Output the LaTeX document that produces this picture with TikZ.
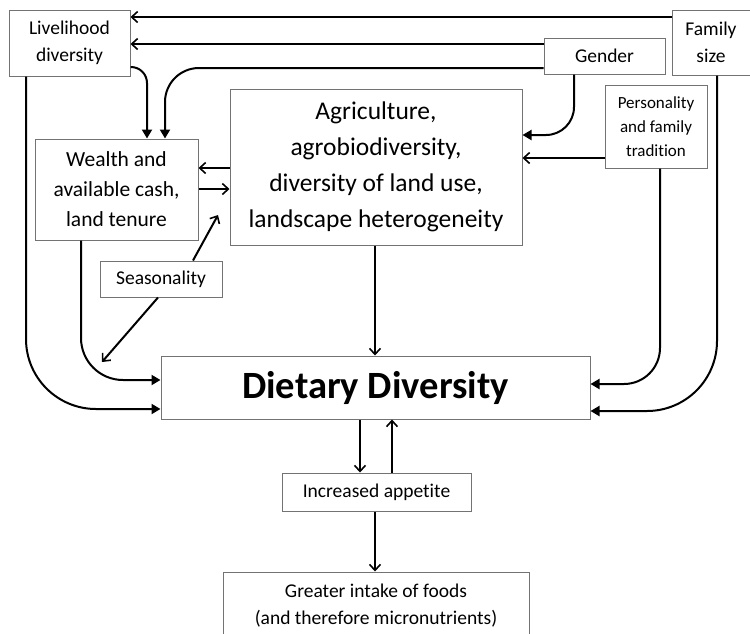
\documentclass[tikz,border=0pt]{standalone}
\usepackage{fontspec}
\setmainfont{Carlito}[Ligatures={NoCommon}]
\usetikzlibrary{arrows.meta}
\begin{document}
\begin{tikzpicture}[x=1pt,y=-1pt,
  box/.style={draw=black!55, line width=1pt, fill=white, align=center, inner sep=0pt, text=black},
  fs/.style={font=\fontsize{19.5}{27}\selectfont},
  fpers/.style={font=\fontsize{17}{24}\selectfont},
  fwealth/.style={font=\fontsize{21.5}{30}\selectfont},
  fagri/.style={font=\fontsize{25.5}{36}\selectfont},
  fdiet/.style={font=\fontsize{38.6}{46}\selectfont\bfseries},
  conn/.style={line width=2pt, black},
  fa/.style={conn, -{Triangle[length=9pt,width=10pt]}},
  oa/.style={conn, -{Straight Barb[length=6pt,width=11pt,line width=1.6pt]}}]
\useasboundingbox (0,0) rectangle (750,633);
\clip (0,0) rectangle (750,633);
\fill[white] (0,0) rectangle (750,633);

\node[box, fs, minimum width=121pt, minimum height=66pt] (liv) at (69.5,43) {Livelihood\\diversity};
\node[box, fs, minimum width=78pt, minimum height=65pt] (fam) at (711,42.5) {Family\\size};
\node[box, fs, minimum width=121pt, minimum height=36pt] (gen) at (604.5,56) {Gender};
\node[box, fpers, minimum width=102pt, minimum height=83pt] (pers) at (656,126.5) {Personality\\and family\\tradition};
\node[box, fagri, minimum width=292pt, minimum height=156pt] (agri) at (376,167) {Agriculture,\\agrobiodiversity,\\diversity of land use,\\landscape heterogeneity};
\node[box, fwealth, minimum width=163pt, minimum height=101pt] (wealth) at (116.5,189.5) {Wealth and\\available cash,\\land tenure};
\node[box, fs, minimum width=122pt, minimum height=36pt] (seas) at (161,279) {Seasonality};
\node[box, fdiet, minimum width=429pt, minimum height=63pt] (diet) at (375.5,387.5) {Dietary Diversity};
\node[box, fs, minimum width=189pt, minimum height=38pt] (app) at (376.5,492) {Increased appetite};
\node[box, fs, minimum width=306pt, minimum height=68pt] (food) at (376,606) {Greater intake of foods\\(and therefore micronutrients)};

\coordinate (sa) at (218,215);
\coordinate (sd) at (102,362);

\draw[oa] (fam.west |- 0,17) -- (liv.east |- 0,17);
\draw[oa] (gen.west |- 0,44) -- (liv.east |- 0,44);
\draw[fa, rounded corners=34pt] (gen.west |- 0,68) -- (165,68) -- (wealth.north -| 165,0);
\draw[fa, rounded corners=16pt] (liv.east |- 0,67) -- (147,67) -- (wealth.north -| 147,0);
\draw[fa, rounded corners=28pt] (gen.south -| 574,0) -- (574,135) -- (agri.east |- 0,135);
\draw[oa] (pers.west |- 0,158) -- (agri.east |- 0,158);
\draw[oa] (agri.west |- 0,168) -- (wealth.east |- 0,168);
\draw[oa] (wealth.east |- 0,189) -- (agri.west |- 0,189);
\draw[oa] (seas.north -| 193,0) -- (sa);
\draw[oa] (seas.south -| 158,0) -- (sd);
\draw[fa, rounded corners=42pt] (wealth.south -| 81,0) -- (81,380) -- (diet.west |- 0,380);
\draw[fa, rounded corners=70pt] (liv.south -| 26,0) -- (26,409) -- (diet.west |- 0,409);
\draw[fa, rounded corners=36pt] (pers.south -| 660,0) -- (660,384) -- (diet.east |- 0,384);
\draw[fa, rounded corners=70pt] (fam.south -| 717,0) -- (717,411) -- (diet.east |- 0,411);
\draw[oa] (agri.south -| 375,0) -- (diet.north -| 375,0);
\draw[oa] (diet.south -| 360,0) -- (app.north -| 360,0);
\draw[oa] (app.north -| 392,0) -- (diet.south -| 392,0);
\draw[oa] (app.south -| 375,0) -- (food.north -| 375,0);
\end{tikzpicture}
\end{document}
